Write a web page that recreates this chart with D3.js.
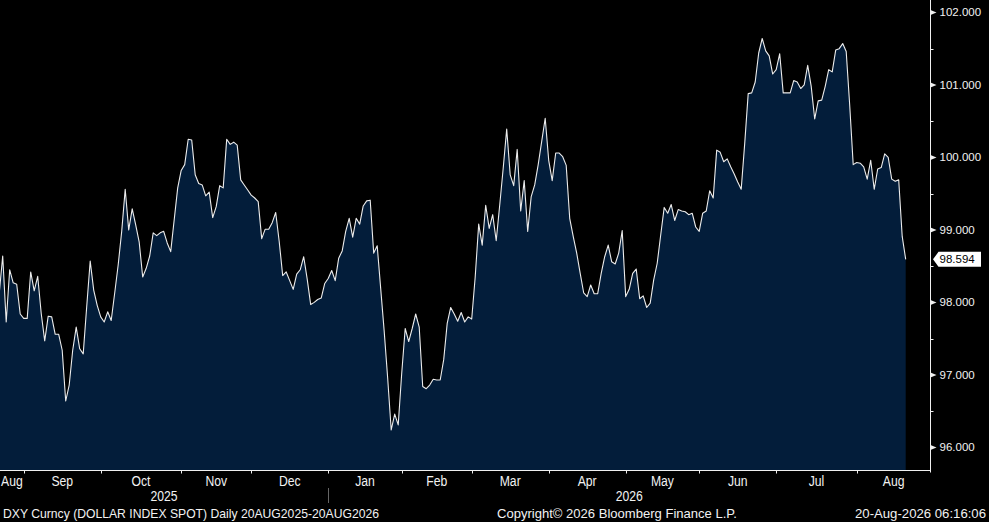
<!DOCTYPE html>
<html>
<head>
<meta charset="utf-8">
<script src="https://cdn.jsdelivr.net/npm/d3@7"></script>
<style>
    html, body { margin: 0; padding: 0; background: #000; }
    svg { display: block; }
    .narrow { font-family: "Liberation Sans", Arial, sans-serif; fill: #f2f2f2; }
    .ylab { font-family: "Liberation Sans", Arial, sans-serif; font-size: 11.5px; fill: #f2f2f2; }
</style>
</head>
<body>
<div id="chart"></div>
<script>
// DXY daily closes, one per trading day 20AUG2025 - 20AUG2026
const dxyValues = [
    98.12, 98.64, 97.73, 98.45, 98.27, 98.25, 97.84, 97.78, 97.78, 98.42,
    98.16, 98.36, 97.85, 97.47, 97.81, 97.80, 97.56, 97.56, 97.34, 96.64,
    96.86, 97.34, 97.66, 97.36, 97.29, 97.94, 98.57, 98.17, 97.96, 97.80,
    97.73, 97.87, 97.75, 98.13, 98.52, 98.98, 99.56, 99.00, 99.29, 99.07,
    98.83, 98.35, 98.47, 98.64, 98.96, 98.92, 98.96, 98.98, 98.82, 98.70,
    99.14, 99.58, 99.82, 99.90, 100.25, 100.24, 99.76, 99.64, 99.62, 99.47,
    99.52, 99.17, 99.32, 99.61, 99.58, 100.25, 100.18, 100.21, 100.17, 99.69,
    99.62, 99.55, 99.48, 99.44, 99.39, 98.88, 99.01, 99.01, 99.10, 99.24,
    98.84, 98.37, 98.42, 98.30, 98.18, 98.39, 98.45, 98.63, 98.32, 97.97,
    98.00, 98.04, 98.06, 98.26, 98.33, 98.44, 98.30, 98.61, 98.71, 98.98,
    99.16, 98.90, 99.16, 99.08, 99.33, 99.40, 99.41, 98.68, 98.78, 98.19,
    97.60, 96.95, 96.24, 96.46, 96.31, 97.02, 97.64, 97.46, 97.64, 97.84,
    97.66, 96.84, 96.81, 96.86, 96.94, 96.93, 96.93, 97.21, 97.71, 97.93,
    97.84, 97.74, 97.86, 97.73, 97.80, 97.77, 98.35, 99.08, 98.79, 99.34,
    99.02, 99.21, 98.85, 99.34, 99.85, 100.39, 99.76, 99.61, 100.11, 99.26,
    99.68, 98.98, 99.46, 99.62, 99.90, 100.22, 100.54, 99.96, 99.68, 100.06,
    100.06, 100.01, 99.89, 99.16, 98.91, 98.68, 98.40, 98.13, 98.08, 98.24,
    98.12, 98.12, 98.40, 98.63, 98.79, 98.56, 98.53, 98.68, 98.99, 98.08,
    98.18, 98.40, 98.46, 98.05, 98.09, 97.93, 97.99, 98.31, 98.54, 98.93,
    99.31, 99.23, 99.35, 99.13, 99.28, 99.26, 99.25, 99.21, 99.23, 99.04,
    98.98, 99.23, 99.26, 99.54, 99.44, 100.10, 100.07, 99.94, 99.98, 99.87,
    99.77, 99.66, 99.56, 100.19, 100.88, 100.89, 101.04, 101.44, 101.64, 101.47,
    101.40, 101.15, 101.21, 101.43, 100.89, 100.89, 100.89, 101.06, 101.04, 100.95,
    101.00, 101.27, 100.98, 100.53, 100.78, 100.79, 100.98, 101.21, 101.18, 101.48,
    101.50, 101.57, 101.46, 100.72, 99.90, 99.93, 99.92, 99.87, 99.70, 99.96,
    99.56, 99.84, 99.86, 100.05, 100.00, 99.70, 99.67, 99.69, 98.91, 98.594
];
const startDate = "2025-08-20";
const endDate = "2026-08-20";
const holidays = ["2025-12-25", "2026-01-01"];
const yTicks = [96, 97, 98, 99, 100, 101, 102];
const yMinorTicks = [96.5, 97.5, 98.5, 99.5, 100.5, 101.5];
const monthNames = ["Jan", "Feb", "Mar", "Apr", "May", "Jun", "Jul", "Aug", "Sep", "Oct", "Nov", "Dec"];
const footerLeft = "DXY Curncy (DOLLAR INDEX SPOT) Daily 20AUG2025-20AUG2026";
const footerMid = "Copyright\u00a9 2026 Bloomberg Finance L.P.";
const footerRight = "20-Aug-2026 06:16:06";

// svg size and plot frame
const width = 989;
const height = 522;
const plot = { left: 0, right: 930.5, top: 0, bottom: 470.5 };
const squeeze = 0.87; // Bloomberg's axis font is condensed

// trading days (weekdays minus holidays)
const fmt = d3.utcFormat("%Y-%m-%d");
const tradingDays = d3.utcDays(new Date(startDate), d3.utcDay.offset(new Date(endDate), 1))
    .filter(d => d.getUTCDay() % 6 !== 0 && !holidays.includes(fmt(d)));
const data = tradingDays.slice(0, dxyValues.length).map((d, i) => ({ i: i, date: d, value: dxyValues[i] }));

const x = d3.scaleLinear().domain([0, data.length - 1]).range([-0.8, 905.7]);
const y = d3.scaleLinear().domain([96, 102]).range([447.4, 12.4]);

const svg = d3.select("#chart").append("svg")
    .attr("width", width)
    .attr("height", height);

svg.append("rect").attr("width", width).attr("height", height).attr("fill", "#000");

svg.append("clipPath").attr("id", "plotClip")
    .append("rect")
    .attr("x", plot.left).attr("y", plot.top)
    .attr("width", plot.right - plot.left).attr("height", plot.bottom - plot.top);

const gPlot = svg.append("g").attr("clip-path", "url(#plotClip)");

const area = d3.area()
    .x(d => x(d.i))
    .y0(plot.bottom)
    .y1(d => y(d.value));
const line = d3.line()
    .x(d => x(d.i))
    .y(d => y(d.value));

gPlot.append("path")
    .datum(data)
    .attr("d", area)
    .attr("fill", "#031d3a");
gPlot.append("path")
    .datum(data)
    .attr("d", line)
    .attr("fill", "none")
    .attr("stroke", "#ececec")
    .attr("stroke-width", 1.1)
    .attr("stroke-linejoin", "round");

// right axis
const gY = svg.append("g");
gY.append("line")
    .attr("x1", plot.right).attr("x2", plot.right)
    .attr("y1", 0).attr("y2", plot.bottom + 2)
    .attr("stroke", "#f0f0f0").attr("stroke-width", 1);
gY.selectAll(".minor")
    .data(yMinorTicks).enter()
    .append("line")
    .attr("x1", plot.right).attr("x2", plot.right + 3)
    .attr("y1", d => Math.round(y(d)) + 0.5).attr("y2", d => Math.round(y(d)) + 0.5)
    .attr("stroke", "#f0f0f0");
gY.selectAll(".major")
    .data(yTicks).enter()
    .append("path")
    .attr("d", d => {
        let ty = y(d);
        return "M" + plot.right + "," + (ty - 2.5) + "L" + (plot.right + 6) + "," + ty
            + "L" + plot.right + "," + (ty + 2.5) + "Z";
    })
    .attr("fill", "#f0f0f0");
gY.selectAll("text")
    .data(yTicks).enter()
    .append("text")
    .attr("class", "ylab")
    .attr("x", plot.right + 9)
    .attr("y", d => y(d) + 4)
    .text(d => d3.format(".3f")(d));

// last value tag
const last = data[data.length - 1];
const ly = y(last.value);
svg.append("path")
    .attr("d", "M" + (plot.right + 2.5) + "," + ly
        + "L" + (plot.right + 8) + "," + (ly - 7.5)
        + "L981," + (ly - 7.5) + "L981," + (ly + 7.5)
        + "L" + (plot.right + 8) + "," + (ly + 7.5) + "Z")
    .attr("fill", "#ffffff");
svg.append("text")
    .attr("class", "ylab")
    .attr("x", plot.right + 9)
    .attr("y", ly + 4)
    .style("fill", "#000")
    .text(d3.format(".3f")(last.value));

// bottom axis
const gX = svg.append("g");
gX.append("line")
    .attr("x1", 0).attr("x2", plot.right)
    .attr("y1", plot.bottom).attr("y2", plot.bottom)
    .attr("stroke", "#f0f0f0");

// month ticks sit on the last trading day of each month
const monthEnds = data.filter((d, i) => i < data.length - 1
    && data[i + 1].date.getUTCMonth() !== d.date.getUTCMonth());
const bounds = [plot.left].concat(monthEnds.map(d => x(d.i)), [plot.right]);
const monthSpans = d3.range(bounds.length - 1).map(k => ({
    x0: bounds[k],
    x1: bounds[k + 1],
    date: k === 0 ? data[0].date : data[monthEnds[k - 1].i + 1].date
}));

gX.selectAll(".mtick")
    .data(monthEnds).enter()
    .append("line")
    .attr("x1", d => Math.round(x(d.i)) + 0.5).attr("x2", d => Math.round(x(d.i)) + 0.5)
    .attr("y1", plot.bottom).attr("y2", plot.bottom + 3)
    .attr("stroke", "#f0f0f0");
gX.selectAll(".mlab")
    .data(monthSpans).enter()
    .append("text")
    .attr("class", "narrow")
    .attr("transform", d => "translate(" + (d.x0 + d.x1) / 2 + ",486) scale(" + squeeze + ",1)")
    .attr("text-anchor", "middle")
    .attr("font-size", "14px")
    .text(d => monthNames[d.date.getUTCMonth()]);

// year labels and divider
const yearBreak = monthEnds.find(d => d.date.getUTCMonth() === 11);
const yearSpans = [
    { label: "2025", x0: plot.left, x1: x(yearBreak.i) },
    { label: "2026", x0: x(yearBreak.i), x1: plot.right }
];
gX.selectAll(".ylabel")
    .data(yearSpans).enter()
    .append("text")
    .attr("class", "narrow")
    .attr("transform", d => "translate(" + (d.x0 + d.x1) / 2 + ",501) scale(" + squeeze + ",1)")
    .attr("text-anchor", "middle")
    .attr("font-size", "14px")
    .text(d => d.label);
gX.append("line")
    .attr("x1", Math.round(x(yearBreak.i)) + 0.5).attr("x2", Math.round(x(yearBreak.i)) + 0.5)
    .attr("y1", 488).attr("y2", 503)
    .attr("stroke", "#666");

// footer
const footer = svg.append("g").attr("class", "narrow").attr("font-size", "13px");
footer.append("text").attr("x", 3).attr("y", 517.5)
    .attr("textLength", 376).attr("lengthAdjust", "spacingAndGlyphs").text(footerLeft);
footer.append("text").attr("x", 497).attr("y", 517.5)
    .attr("textLength", 240).attr("lengthAdjust", "spacingAndGlyphs").text(footerMid);
footer.append("text").attr("x", 855).attr("y", 517.5)
    .attr("textLength", 131).attr("lengthAdjust", "spacingAndGlyphs").text(footerRight);
</script>
</body>
</html>
